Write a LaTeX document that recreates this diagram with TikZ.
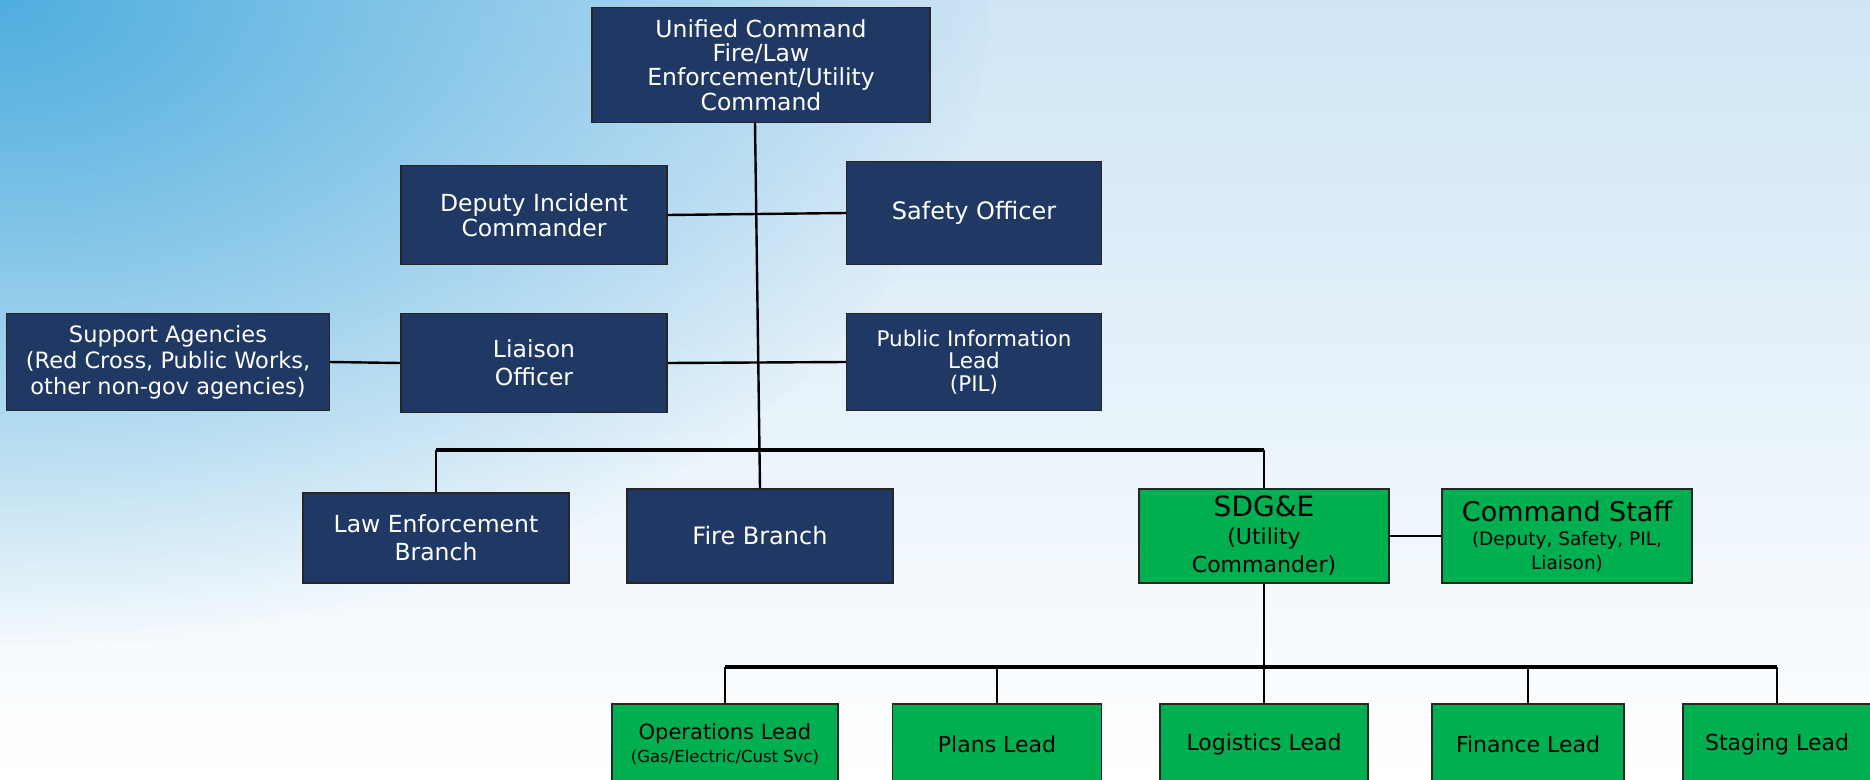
\documentclass[tikz,border=0pt]{standalone}
\usepackage{fontspec}
\setmainfont{DejaVu Sans}
\usetikzlibrary{fadings}
\definecolor{navy}{HTML}{203864}
\definecolor{leadgreen}{HTML}{00B050}
\definecolor{skyblue}{HTML}{4FAEDF}
\definecolor{paleblue}{HTML}{CFE5F5}
\tikzfading[name=cornerglow, inner color=transparent!0, outer color=transparent!100]

\begin{document}
\begin{tikzpicture}[x=1pt, y=-1pt,
        box/.style={draw=black!85, line width=1.2pt, rectangle, align=center, inner sep=0pt},
        navybox/.style={box, fill=navy, text=white},
        greenbox/.style={box, fill=leadgreen, text=black},
        txt/.style 2 args={font=\fontsize{#1}{#2}\selectfont},
        link/.style={line width=2.4pt, black},
        bar/.style={line width=3.6pt, black}]
        \useasboundingbox (0,0) rectangle (1870,779);
        \clip (0,0) rectangle (1870,779);
        \shade[top color=paleblue, bottom color=white] (0,0) rectangle (1870,779);
        \fill[skyblue, path fading=cornerglow] (0,0) ellipse[x radius=1000, y radius=650];

        % command staff
        \node[navybox, txt={23.5}{24.3}, minimum width=338, minimum height=115] (uc) at (761,65) {Unified Command\\Fire/Law\\Enforcement/Utility\\Command};
        \node[navybox, txt={23.5}{24.5}, minimum width=266, minimum height=99] (dep) at (534,215) {Deputy Incident\\Commander};
        \node[navybox, txt={24}{25}, minimum width=255, minimum height=103] (saf) at (974,213) {Safety Officer};
        \node[navybox, txt={22.5}{26}, minimum width=323, minimum height=97] (sup) at (168,362) {Support Agencies\\(Red Cross, Public Works,\\other non-gov agencies)};
        \node[navybox, txt={23.5}{28}, minimum width=266, minimum height=99] (lia) at (534,363) {Liaison\\Officer};
        \node[navybox, txt={21.5}{22.5}, minimum width=255, minimum height=97] (pil) at (974,362) {Public Information\\Lead\\(PIL)};

        % branches
        \node[navybox, txt={23.5}{28}, minimum width=266, minimum height=90] (law) at (436,538) {Law Enforcement\\Branch};
        \node[navybox, txt={24}{25}, minimum width=266, minimum height=94] (fire) at (760,536) {Fire Branch};
        \node[greenbox, txt={22}{28}, minimum width=250, minimum height=94] (sdge) at (1264,536) {{\fontsize{28}{30}\selectfont SDG\&E}\\(Utility\\Commander)};
        \node[greenbox, txt={18.5}{24}, minimum width=250, minimum height=94] (cs) at (1567,536) {{\fontsize{27}{28}\selectfont Command Staff}\\(Deputy, Safety, PIL,\\Liaison)};

        % leads
        \node[greenbox, txt={16.5}{23}, minimum width=226, minimum height=80] (ops) at (725,744) {{\fontsize{21}{23}\selectfont Operations Lead}\\(Gas/Electric/Cust Svc)};
        \node[greenbox, txt={22}{24}, minimum width=209, minimum height=80] (plans) at (997,744) {Plans Lead};
        \node[greenbox, txt={22}{24}, minimum width=208, minimum height=80] (log) at (1264,744) {Logistics Lead};
        \node[greenbox, txt={22}{24}, minimum width=192, minimum height=80] (fin) at (1528,744) {Finance Lead};
        \node[greenbox, txt={22}{24}, minimum width=188, minimum height=80] (stg) at (1777,744) {Staging Lead};

        % connectors
        \coordinate (upbar) at (0,450);
        \coordinate (lowbar) at (0,667);
        \draw[link] ([xshift=-6pt]uc.south) -- (fire.north);
        \draw[link] (dep.east) -- (saf.west);
        \draw[link] (lia.east) -- (pil.west);
        \draw[link] (sup.east) -- (lia.west);
        \draw[link] (law.north) -- (law.north |- upbar);
        \draw[bar] (law.north |- upbar) -- (sdge.north |- upbar);
        \draw[link] (sdge.north |- upbar) -- (sdge.north);
        \draw[link] (sdge.east) -- (cs.west);
        \draw[link] (sdge.south) -- (log.north);
        \draw[bar] (ops.north |- lowbar) -- (stg.north |- lowbar);
        \foreach \lead in {ops,plans,fin,stg}
            \draw[link] (\lead.north |- lowbar) -- (\lead.north);
    \end{tikzpicture}
\end{document}
